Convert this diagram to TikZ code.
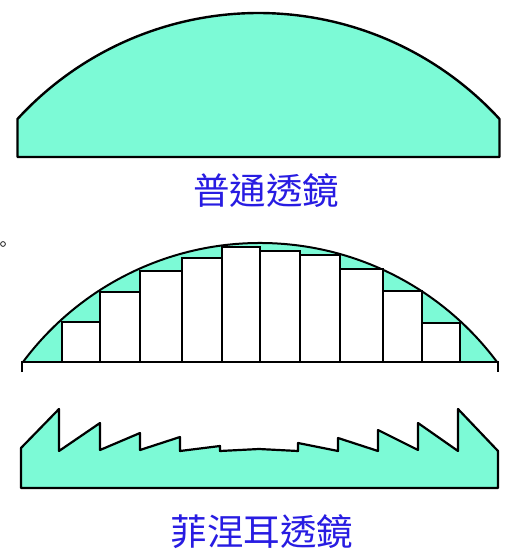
\documentclass[tikz,border=0pt]{standalone}
\usepackage{fontspec}
\newfontfamily\cjkfont{Noto Sans CJK TC}
\begin{document}
\begin{tikzpicture}[x=1pt,y=-1pt,
  lensfill/.style={fill=aqua},
  outline/.style={draw=black,line width=2.4pt,line join=round},
  stepbar/.style={draw=black,fill=white,line width=2.6pt},
  lbl/.style={font=\cjkfont\fontsize{36.5}{40}\selectfont,inner sep=0pt,text=lblblue}]
\definecolor{aqua}{RGB}{124,250,214}
\definecolor{lblblue}{RGB}{40,28,226}
\useasboundingbox[fill=white] (0,0) rectangle (510,554);

% ordinary plano-convex lens
\draw[outline,lensfill] (17.5,157) -- (17.5,119)
  arc[start angle=-137.48,end angle=-42.52,radius=327] -- (499.5,157) -- cycle;
\node[lbl] (capA) at (266,191) {普通透鏡};

% small marker circle
\draw[line width=0.7pt] (3,244) circle[radius=2.4];

% lens cut into vertical strips
\fill[lensfill] (23,362) arc[start angle=-143.33,end angle=-36.67,radius=295.5] -- cycle;
\draw[line width=2pt] (23,362) arc[start angle=-143.33,end angle=-36.67,radius=295.5];
\foreach \xa/\xb/\yt in {62/100/322,100/140/292,140/182/271,182/222/258,222/260/247,
                         260/300/251,300/340/255,340/383/269,383/422/291,422/460/323}{
  \draw[stepbar] (\xa,362) rectangle (\xb,\yt);
}
\draw[line width=2.6pt] (22,372) -- (22,362) -- (498,362) -- (498,372);

% Fresnel lens
\draw[outline,lensfill,line width=2.2pt] (21,488) -- (21,448) -- (59,409) -- (59,451)
  -- (100,423) -- (100,450) -- (140,433) -- (140,450) -- (180,437) -- (180,451)
  -- (220,446) -- (220,451) -- (259,449) -- (298,451) -- (298,443) -- (338,451)
  -- (338,438) -- (378,451) -- (378,430) -- (418,450) -- (418,423) -- (458,451)
  -- (458,409) -- (498,451) -- (498,488) -- cycle;
\node[lbl] (capB) at (262,532) {菲涅耳透鏡};
\end{tikzpicture}
\end{document}
